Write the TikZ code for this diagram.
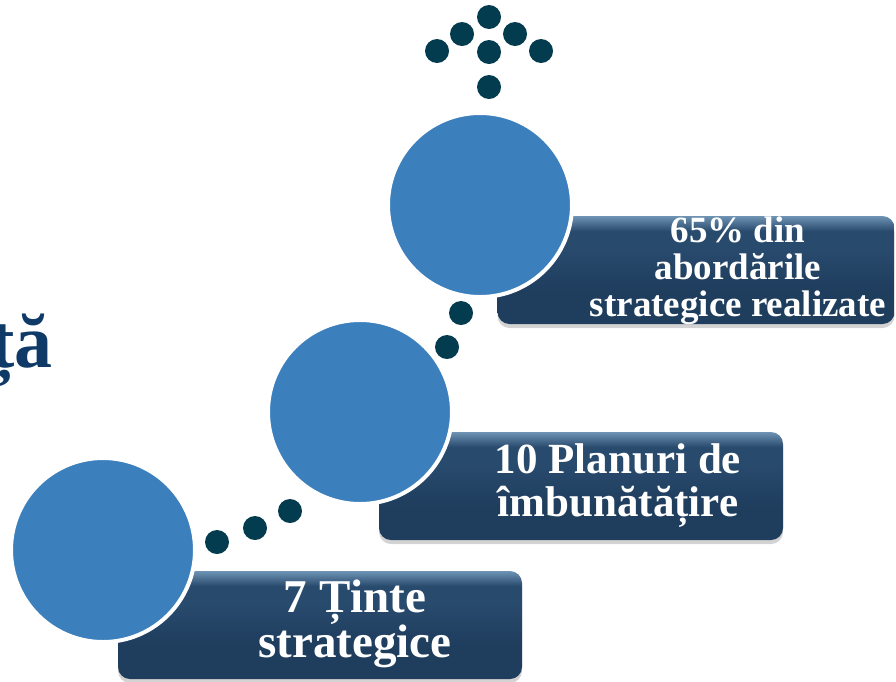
\documentclass[tikz,border=0pt]{standalone}
\usepackage{fontspec}
\setmainfont{Liberation Serif}
\usetikzlibrary{shadows}

\definecolor{stepblue}{HTML}{3B80BC}
\definecolor{dotteal}{HTML}{033C4F}
\definecolor{boxtop}{HTML}{6E93B3}
\definecolor{boxmid}{HTML}{284A6D}
\definecolor{boxbot}{HTML}{1F3D5D}
\definecolor{titlenavy}{HTML}{0F3A68}

\pgfdeclareverticalshading{goalshade}{100bp}{color(0bp)=(boxbot); color(25bp)=(boxbot);
  color(40bp)=(boxbot); color(60bp)=(boxmid); color(68bp)=(boxmid);
  color(75bp)=(boxtop); color(100bp)=(boxtop)}

\tikzset{
  stepcircle/.style={circle, fill=stepblue, draw=white, line width=4pt,
    minimum size=184pt, inner sep=0pt},
  goalbox/.style={rounded corners=12pt, shading=goalshade,
    minimum width=404pt, minimum height=108pt,
    drop shadow={shadow xshift=0pt, shadow yshift=-4pt, opacity=0.35}},
  goaltext/.style={text=white, font=\bfseries, align=center, inner sep=0pt},
  pathdot/.style={circle, fill=dotteal, minimum size=24pt, inner sep=0pt},
}

\begin{document}
\begin{tikzpicture}[x=1pt,y=-1pt]

\clip (0,0) rectangle (896,681);

% cut-off title on the left
\node[anchor=base east, text=titlenavy, font=\bfseries\fontsize{76}{76}\selectfont,
  inner sep=0pt] (title) at (53,367) {ță};

% boxes
\node[goalbox] (box1) at (320,625) {};
\node[goalbox] (box2) at (581,486) {};
\node[goalbox, minimum width=397pt] (box3) at (696,270) {};

% circles
\node[stepcircle] (circ1) at (103,550) {};
\node[stepcircle] (circ2) at (360,412) {};
\node[stepcircle] (circ3) at (480,205) {};

% texts
\node[goaltext, font=\bfseries\fontsize{47}{40}\selectfont] (txt1) at (355,624)
  {7 Ținte\\strategice};
\node[goaltext, font=\bfseries\fontsize{43}{43}\selectfont] (txt2) at (618,486)
  {10 Planuri de\\îmbunătățire};
\node[goaltext, font=\bfseries\fontsize{37}{37}\selectfont] (txt3) at (738,271)
  {65\% din\\abordările\\strategice realizate};

% dotted steps
\foreach \px/\py in {217/542, 255/528, 290/511, 447/347, 461/313}
  \node[pathdot] at (\px,\py) {};

% arrow of dots
\foreach \px/\py in {489/17, 462/34, 515/34, 437/51, 489/52, 541/51, 489/87}
  \node[pathdot] at (\px,\py) {};

\end{tikzpicture}
\end{document}
